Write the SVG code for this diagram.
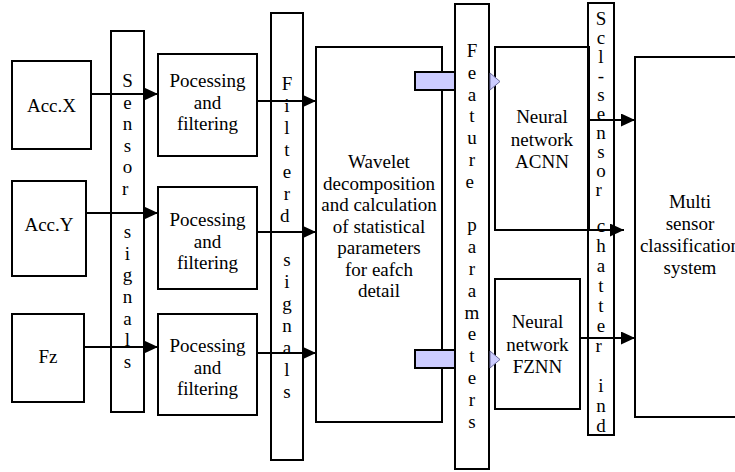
<svg xmlns="http://www.w3.org/2000/svg" width="735" height="472" viewBox="0 0 735 472">
<style>
.box{fill:#fff;stroke:#000;stroke-width:2}
.bar{fill:none;stroke:#000;stroke-width:2}
.t{font-family:'Liberation Serif','Times New Roman',Tinos,Times,'DejaVu Serif',serif;font-size:19px;fill:#000;text-anchor:middle}
.ln{stroke:#000;stroke-width:2;fill:none}
.pr{fill:#ccccff;stroke:#000;stroke-width:2}
.ptri{fill:#ccccff;stroke:#6a6a9a;stroke-width:1}
</style>
<defs>
<marker id="ah" markerUnits="userSpaceOnUse" markerWidth="15" markerHeight="13" refX="14" refY="6.5" orient="auto">
<path d="M0,0 L14,6.5 L0,13 z" fill="#000"/>
</marker>
</defs>
<rect width="735" height="472" fill="#fff"/>
<g font-family="'Liberation Serif', 'Times New Roman', serif">
<g id="accx"><rect class="box" x="12" y="61" width="79" height="88"/><text class="t" x="51.5" y="112">Acc.X</text></g>
<g id="accy"><rect class="box" x="12" y="181" width="74" height="95"/><text class="t" x="49" y="231">Acc.Y</text></g>
<g id="fz"><rect class="box" x="12" y="314" width="72" height="88"/><text class="t" x="48" y="363">Fz</text></g>

<g id="proc1"><rect class="box" x="158" y="54" width="99" height="102"/>
<text class="t" x="207.5" y="87">Pocessing</text><text class="t" x="207.5" y="108.5">and</text><text class="t" x="207.5" y="130">filtering</text></g>
<g id="proc2"><rect class="box" x="158" y="187" width="99" height="102"/>
<text class="t" x="207.5" y="226">Pocessing</text><text class="t" x="207.5" y="247.5">and</text><text class="t" x="207.5" y="269">filtering</text></g>
<g id="proc3"><rect class="box" x="158" y="314" width="99" height="101"/>
<text class="t" x="207.5" y="352">Pocessing</text><text class="t" x="207.5" y="373.5">and</text><text class="t" x="207.5" y="395">filtering</text></g>

<g id="wavelet"><rect class="box" x="316" y="47" width="126" height="375"/>
<text class="t" x="379" y="168">Wavelet</text>
<text class="t" x="379" y="189.5">decomposition</text>
<text class="t" x="379" y="211">and calculation</text>
<text class="t" x="379" y="232.5">of statistical</text>
<text class="t" x="379" y="254">parameters</text>
<text class="t" x="379" y="275.5">for eafch</text>
<text class="t" x="379" y="297">detail</text></g>

<g id="acnn"><rect class="box" x="495" y="47" width="94" height="183"/>
<text class="t" x="542" y="123">Neural</text><text class="t" x="542" y="145.5">network</text><text class="t" x="542" y="168">ACNN</text></g>
<g id="fznn"><rect class="box" x="495" y="279" width="85" height="130"/>
<text class="t" x="537.5" y="328">Neural</text><text class="t" x="537.5" y="350.5">network</text><text class="t" x="537.5" y="373">FZNN</text></g>

<g id="multi"><rect class="box" x="635" y="57" width="112" height="360"/>
<text class="t" x="690" y="208">Multi</text><text class="t" x="690" y="229.5">sensor</text><text class="t" x="690" y="252">classification</text><text class="t" x="690" y="273.5">system</text></g>

<g id="sensor-bar"><rect class="bar" x="111" y="31" width="33" height="381"/>
<text class="t" x="127.5">
<tspan x="127.5" y="87">S</tspan><tspan x="127.5" y="108.6">e</tspan><tspan x="127.5" y="130.2">n</tspan><tspan x="127.5" y="151.8">s</tspan><tspan x="127.5" y="173.4">o</tspan><tspan x="127.5" y="195">r</tspan>
<tspan x="127.5" y="238.2">s</tspan><tspan x="127.5" y="259.8">i</tspan><tspan x="127.5" y="281.4">g</tspan><tspan x="127.5" y="303">n</tspan><tspan x="127.5" y="324.6">a</tspan><tspan x="127.5" y="346.2">l</tspan><tspan x="127.5" y="367.8">s</tspan>
</text></g>

<g id="filtered-bar"><rect class="bar" x="271" y="13" width="32" height="447"/>
<text class="t" x="287">
<tspan x="287" y="90">F</tspan><tspan x="287" y="112">i</tspan><tspan x="287" y="134">l</tspan><tspan x="287" y="156">t</tspan><tspan x="287" y="178">e</tspan><tspan x="287" y="200">r</tspan><tspan x="287" y="222">d</tspan>
<tspan x="287" y="266">s</tspan><tspan x="287" y="288">i</tspan><tspan x="287" y="310">g</tspan><tspan x="287" y="332">n</tspan><tspan x="287" y="354">a</tspan><tspan x="287" y="376">l</tspan><tspan x="287" y="398">s</tspan>
</text></g>

<g id="feature-bar"><rect class="bar" x="455" y="4" width="34" height="465"/>
<text class="t" x="472">
<tspan x="472" y="57">F</tspan><tspan x="472" y="78.8">e</tspan><tspan x="472" y="100.6">a</tspan><tspan x="472" y="122.4">t</tspan><tspan x="472" y="144.2">u</tspan><tspan x="472" y="166">r</tspan><tspan x="472" y="187.8">e</tspan>
<tspan x="472" y="231.4">p</tspan><tspan x="472" y="253.2">a</tspan><tspan x="472" y="275">r</tspan><tspan x="472" y="296.8">a</tspan><tspan x="472" y="318.6">m</tspan><tspan x="472" y="340.4">e</tspan><tspan x="472" y="362.2">t</tspan><tspan x="472" y="384">e</tspan><tspan x="472" y="405.8">r</tspan><tspan x="472" y="427.6">s</tspan>
</text></g>

<g id="scl-bar"><rect class="bar" x="588" y="3" width="26" height="432"/>
<text class="t" x="601">
<tspan x="601" y="25">S</tspan><tspan x="601" y="44">c</tspan><tspan x="601" y="63">l</tspan><tspan x="601" y="82">-</tspan><tspan x="601" y="101">s</tspan><tspan x="601" y="120">e</tspan><tspan x="601" y="139">n</tspan><tspan x="601" y="158">s</tspan><tspan x="601" y="177">o</tspan><tspan x="601" y="196">r</tspan>
<tspan x="601" y="232">c</tspan><tspan x="601" y="252">h</tspan><tspan x="601" y="272">a</tspan><tspan x="601" y="292">t</tspan><tspan x="601" y="312">t</tspan><tspan x="601" y="332">e</tspan><tspan x="601" y="352">r</tspan>
<tspan x="601" y="392">i</tspan><tspan x="601" y="412">n</tspan><tspan x="601" y="432">d</tspan>
</text></g>
</g>
<g id="connectors">
<path class="ln" d="M91,94 H158" marker-end="url(#ah)"/>
<path class="ln" d="M86,213 H158" marker-end="url(#ah)"/>
<path class="ln" d="M84,347 H158" marker-end="url(#ah)"/>
<path class="ln" d="M257,101 H316" marker-end="url(#ah)"/>
<path class="ln" d="M257,232 H316" marker-end="url(#ah)"/>
<path class="ln" d="M257,353 H316" marker-end="url(#ah)"/>
<path class="ln" d="M589,120 H635" marker-end="url(#ah)"/>
<path class="ln" d="M495,230 H624" marker-end="url(#ah)"/>
<path class="ln" d="M580,338 H635" marker-end="url(#ah)"/>
<rect class="pr" x="415" y="72" width="40" height="18"/>
<path class="ptri" d="M490,73 L500,81.5 L490,90 z"/>
<rect class="pr" x="415" y="350" width="40" height="18"/>
<path class="ptri" d="M490,351 L500,359.5 L490,368 z"/>
</g>
</svg>
